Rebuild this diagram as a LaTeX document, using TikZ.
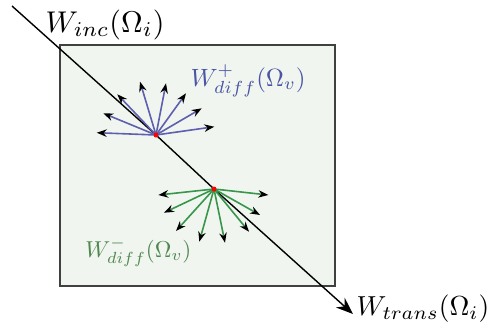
\documentclass[tikz,border=0pt]{standalone}
\usepackage{amsmath, amssymb}
\usetikzlibrary{arrows.meta}
\definecolor{fanBlue}{RGB}{95, 95, 175}
\definecolor{labelBlue}{RGB}{75, 85, 165}
\definecolor{fanGreen}{RGB}{55, 150, 75}
\definecolor{labelGreen}{RGB}{80, 135, 80}
\definecolor{boxFill}{RGB}{240, 246, 239}

\begin{document}
\begin{tikzpicture}[x=1pt, y=-1pt,
    fan/.style={line width=1.6pt, -{Stealth[black, length=10pt, width=7.5pt]}},
    src/.style={circle, fill=red, inner sep=0pt, minimum size=5pt},
    lbl/.style={anchor=base west, inner sep=0pt}]
        \useasboundingbox (0,0) rectangle (491,325);
        \fill[white] (0,0) rectangle (491,325);
        % the region
        \draw[line width=1.5pt, draw=black!75, fill=boxFill] (60,45) rectangle (335,286);
        % points on the incident ray
        \coordinate (start) at (12,6);
        \coordinate (bsrc) at (156,135);
        \coordinate (gsrc) at (214,189);
        \coordinate (end) at (353,314);
        \draw[line width=1.4pt, -{Stealth[length=17pt, width=13pt]}] (start) -- (bsrc) -- (gsrc) -- (end);
        % diffuse fans
        \foreach \tx/\ty in {96.7/132.7, 103.3/113.3, 117.3/94.3, 140/81.7, 166/83.3, 186/93.3, 201.7/108.3, 214.3/126.7}
          \draw[fan, fanBlue] (bsrc) -- (\tx,\ty);
        \foreach \tx/\ty in {158.3/195, 164/212.7, 176/231, 199.3/241.7, 225/242.7, 249/231.7, 260/215, 268.3/195}
          \draw[fan, fanGreen] (gsrc) -- (\tx,\ty);
        \node[src] (bdot) at (bsrc) {};
        \node[src] (gdot) at (gsrc) {};
        % labels
        \node[lbl, scale=3] (inc) at (45,32) {$W_{inc}(\Omega_i)$};
        \node[lbl, scale=2.75] (trans) at (356,315) {$W_{trans}(\Omega_i)$};
        \node[lbl, text=labelBlue, scale=2.5] (plus) at (190,86) {$W^{+}_{diff}(\Omega_v)$};
        \node[lbl, text=labelGreen, scale=2.3] (minus) at (85,257) {$W^{-}_{diff}(\Omega_v)$};
      \end{tikzpicture}
\end{document}
